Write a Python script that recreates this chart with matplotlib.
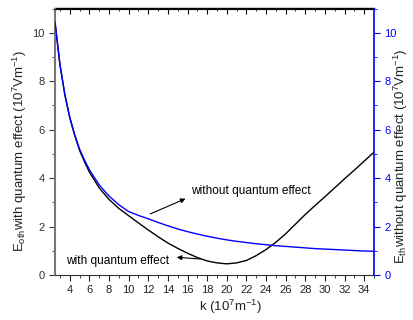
import matplotlib
matplotlib.use("Agg")
import matplotlib.pyplot as plt
from matplotlib.ticker import MultipleLocator

plt.rcParams['font.family'] = ['Liberation Sans', 'DejaVu Sans']
plt.rcParams['mathtext.fontset'] = 'custom'
plt.rcParams['mathtext.rm'] = 'Liberation Sans'
plt.rcParams['mathtext.it'] = 'Liberation Sans'

k_vals = [2.5, 3, 3.5, 4, 4.5, 5, 5.5, 6, 7, 8, 9, 10, 11, 12, 13, 14, 15, 16, 17, 18,
          19, 20, 21, 22, 23, 24, 25, 26, 27, 28, 29, 30, 31, 32, 33, 34, 35]
with_qe = [10.44, 8.7, 7.45, 6.5, 5.77, 5.15, 4.68, 4.25, 3.6, 3.12, 2.75, 2.45, 2.15,
           1.86, 1.58, 1.32, 1.1, 0.9, 0.72, 0.58, 0.5, 0.46, 0.5, 0.6, 0.8, 1.05,
           1.35, 1.7, 2.1, 2.5, 2.87, 3.23, 3.6, 3.97, 4.33, 4.7, 5.07]
without_qe = [10.44, 8.7, 7.45, 6.52, 5.8, 5.2, 4.75, 4.35, 3.72, 3.26, 2.9, 2.62,
              2.46, 2.32, 2.17, 2.03, 1.9, 1.79, 1.69, 1.6, 1.52, 1.45, 1.39, 1.34,
              1.29, 1.25, 1.21, 1.18, 1.15, 1.12, 1.09, 1.07, 1.05, 1.03, 1.01, 0.99, 0.98]

x_ticks = list(range(4, 35, 2))
y_ticks = [0, 2, 4, 6, 8, 10]

W, H = 414, 320
fig = plt.figure(figsize=(4.14, 3.2), dpi=100)
ax = fig.add_axes([55/W, 1-275/H, (374-55)/W, (275-8.5)/H])
ax2 = ax.twinx()

ax.plot(k_vals, with_qe, color='black', lw=1.0)
ax2.plot(k_vals, without_qe, color='#0000ff', lw=1.0)

for a in (ax, ax2):
    a.set_xlim(2.5, 35)
    a.set_ylim(0, 11)
    a.set_yticks(y_ticks)
    a.yaxis.set_minor_locator(MultipleLocator(1))

ax.set_xticks(x_ticks)
ax.xaxis.set_minor_locator(MultipleLocator(1))
ax.tick_params(axis='x', which='both', direction='out', top=False, labelsize=8,
               colors='#222222')
ax.tick_params(axis='x', which='major', length=4)
ax.tick_params(axis='x', which='minor', length=2)
ax.tick_params(axis='y', which='both', direction='out', labelsize=8,
               colors='#333333')
ax.tick_params(axis='y', which='major', length=4)
ax.tick_params(axis='y', which='minor', length=2)

# top ticks inward
sec = ax.secondary_xaxis('top')
sec.set_xticks(x_ticks)
sec.xaxis.set_minor_locator(MultipleLocator(1))
sec.tick_params(which='both', direction='in', labeltop=False)
sec.tick_params(which='major', length=4)
sec.tick_params(which='minor', length=2)
sec.spines['top'].set_linewidth(1.0)

ax2.tick_params(axis='y', which='both', direction='out', labelsize=8,
                colors='#0000ff')
ax2.tick_params(axis='y', which='major', length=4)
ax2.tick_params(axis='y', which='minor', length=2)

ax.spines['left'].set_color('#777777')
ax.spines['left'].set_linewidth(1.5)
ax2.spines['left'].set_visible(False)
ax2.spines['right'].set_color('#0000ff')
ax2.spines['right'].set_linewidth(1.2)
ax.spines['right'].set_visible(False)
ax2.spines['top'].set_visible(False)
ax.spines['bottom'].set_color('#333333')
ax2.spines['bottom'].set_visible(False)

fig.text(230/W, 1-307/H, 'k (10$^7$m$^{-1}$)', fontsize=9.5,
         ha='center', va='center', color='#222222')
fig.text(20/W, 1-151/H, 'E$_{\\mathrm{oth}}$with quantum effect (10$^7$Vm$^{-1}$)',
         fontsize=9.5, rotation=90, ha='center', va='center', color='#222222')
fig.text(401/W, 1-156/H, 'E$_{\\mathrm{th}}$without quantum effect (10$^7$Vm$^{-1}$)',
         fontsize=9.5, rotation=90, ha='center', va='center', color='#222222')

arrow = dict(arrowstyle='-|>', color='black', lw=0.8, mutation_scale=7,
             shrinkA=0, shrinkB=0)
ax.text(16.4, 3.46, 'without quantum effect', fontsize=8.6, va='center', ha='left')
ax.annotate('', xy=(15.8, 3.15), xytext=(12.2, 2.52), arrowprops=arrow)
ax.text(3.6, 0.58, 'with quantum effect', fontsize=8.6, va='center', ha='left')
ax.annotate('', xy=(14.9, 0.73), xytext=(17.3, 0.66), arrowprops=arrow)

fig.savefig('out.png', dpi=100)
